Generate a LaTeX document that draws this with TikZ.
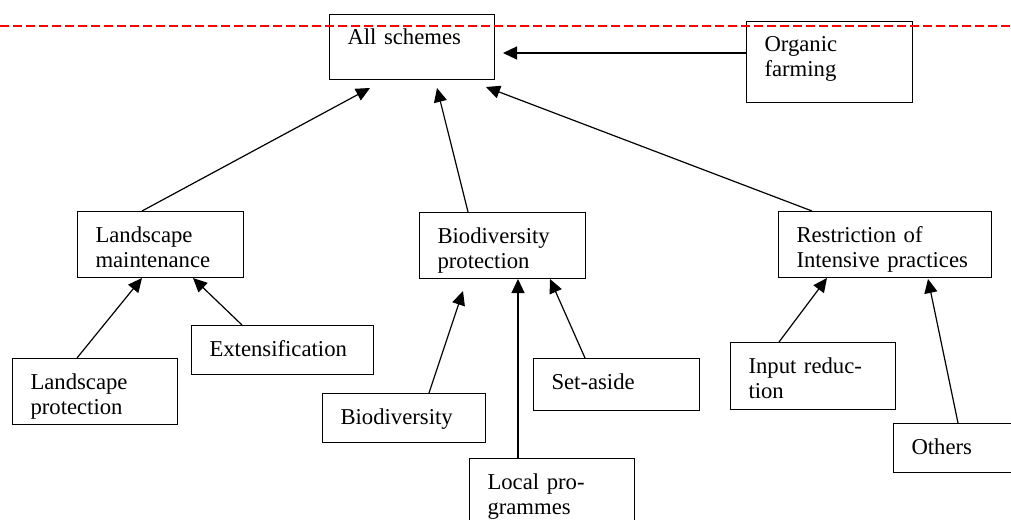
\documentclass[tikz,border=0pt]{standalone}
\usepackage{fontspec}
\setmainfont{Liberation Serif}
\usetikzlibrary{arrows.meta}
\usetikzlibrary{calc}

\begin{document}
\begin{tikzpicture}[x=1pt,y=-1pt]
\tikzset{box/.style={draw, line width=1pt, anchor=north west, align=left, inner xsep=18pt, inner ysep=0pt, text height=30.5pt, font=\fontsize{22.7}{25}\selectfont}}
\tikzset{cutline/.style={draw=red, line width=1.3pt, dash pattern=on 9pt off 4pt}}
\tikzstyle{pointer} = [-{Triangle[length=14pt,width=13pt]}, line width=1.2pt]

\path[use as bounding box, clip] (0,0) rectangle (1011,519);

\node[box, text width=129pt, text depth=34.5pt] (all) at (329,14) {All schemes};
\node[box, text width=130pt, text depth=50.5pt] (org) at (746,21) {Organic\\farming};
\node[box, text width=130pt, text depth=35.5pt] (lm) at (77,211) {Landscape\\maintenance};
\node[box, text width=130pt, text depth=35.5pt] (bp) at (419,212) {Biodiversity\\protection};
\node[box, text width=177pt, text depth=35.5pt] (rip) at (778,211) {Restriction of\\Intensive practices};
\node[box, text width=129pt, text depth=35.5pt] (lp) at (12,358) {Landscape\\protection};
\node[box, text width=146pt, text depth=18.5pt] (ext) at (191,325) {Extensification};
\node[box, text width=127pt, text depth=18.5pt] (bio) at (322,393) {Biodiversity};
\node[box, text width=130pt, text depth=21.5pt] (sa) at (533,358) {Set-aside};
\node[box, text width=129pt, text depth=51.5pt] (loc) at (469,458) {Local pro-\\grammes};
\node[box, text width=129pt, text depth=36.5pt] (inp) at (730,342) {Input reduc-\\tion};
\node[box, text width=130pt, text depth=18.5pt] (oth) at (893,423) {Others};

\draw[pointer] ($(org.north west)+(0,32)$) -- ($(all.north east)+(8,39)$);
\draw[pointer] ($(lm.north west)+(65,0)$) -- ($(all.south west)+(41,8)$);
\draw[pointer] ($(bp.north west)+(49,0)$) -- ($(all.south west)+(108,8)$);
\draw[pointer] ($(rip.north west)+(34,0)$) -- ($(all.south east)+(-9,7)$);
\draw[pointer] ($(lp.north west)+(65,0)$) -- ($(lm.south west)+(65,0)$);
\draw[pointer] ($(ext.north west)+(51,0)$) -- ($(lm.south west)+(116,0)$);
\draw[pointer] ($(bio.north west)+(107,0)$) -- ($(bp.south west)+(44,12)$);
\draw[pointer] ($(loc.north west)+(49,0)$) -- ($(bp.south west)+(99,0)$);
\draw[pointer] ($(sa.north west)+(52,0)$) -- ($(bp.south west)+(131,0)$);
\draw[pointer] ($(inp.north west)+(49,0)$) -- ($(rip.south west)+(49,0)$);
\draw[pointer] ($(oth.north west)+(65,0)$) -- ($(rip.south west)+(150,1)$);

\draw[cutline] (0,26) -- (1011,26);
\end{tikzpicture}
\end{document}
